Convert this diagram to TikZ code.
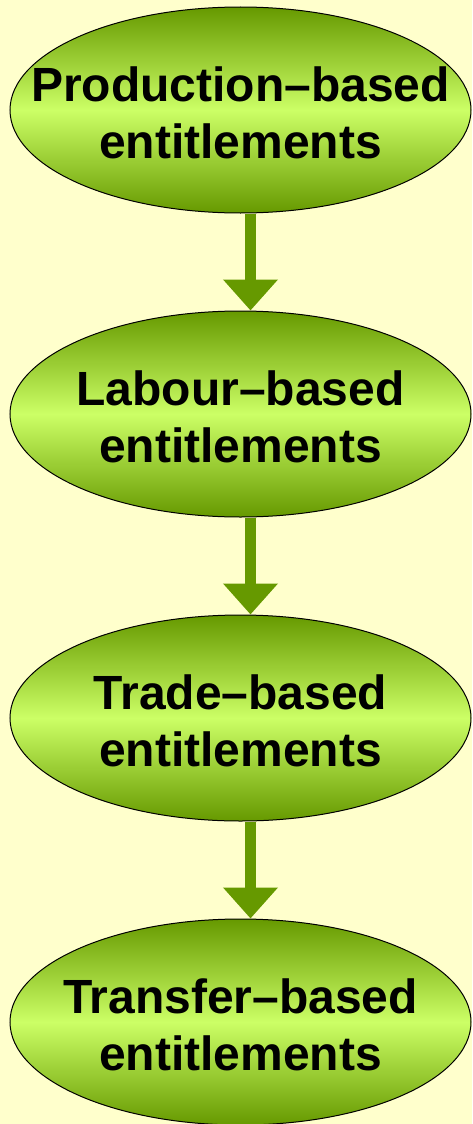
\documentclass[tikz,border=0pt]{standalone}
\usepackage{fontspec}
\setmainfont{Liberation Sans}
\usetikzlibrary{shapes.geometric, arrows.meta}
\definecolor{bg}{HTML}{FFFFCC}
\definecolor{dkgreen}{HTML}{669900}
\definecolor{ltgreen}{HTML}{CCFF66}
\begin{document}
\begin{tikzpicture}[x=1pt,y=-1pt,
 ent/.style={ellipse, draw=black, line width=1pt, minimum width=461pt, minimum height=206pt, inner sep=0pt,
   top color=dkgreen, bottom color=dkgreen, middle color=ltgreen},
 lbl/.style={font=\fontsize{48}{57}\selectfont\bfseries, align=center, text=black, inner sep=0pt},
 flow/.style={-{Triangle[length=31pt,width=53pt]}, line width=11pt, draw=dkgreen}]
\useasboundingbox (0,0) rectangle (472,1124);
\fill[bg] (0,0) rectangle (472,1124);
\node[ent] (e1) at (240.5,110) {};
\node[ent] (e2) at (240.5,414) {};
\node[ent] (e3) at (240.5,718) {};
\node[ent] (e4) at (240.5,1022) {};
\node[lbl] (t1) at ([yshift=-3pt]e1.center) {Production--based\\entitlements};
\node[lbl] (t2) at ([yshift=-3pt]e2.center) {Labour--based\\entitlements};
\node[lbl] (t3) at ([yshift=-3pt]e3.center) {Trade--based\\entitlements};
\node[lbl] (t4) at ([yshift=-3pt]e4.center) {Transfer--based\\entitlements};
\draw[flow] ([xshift=10pt]e1.south) -- ([xshift=10pt]e2.north);
\draw[flow] ([xshift=10pt]e2.south) -- ([xshift=10pt]e3.north);
\draw[flow] ([xshift=10pt]e3.south) -- ([xshift=10pt]e4.north);
\end{tikzpicture}
\end{document}
